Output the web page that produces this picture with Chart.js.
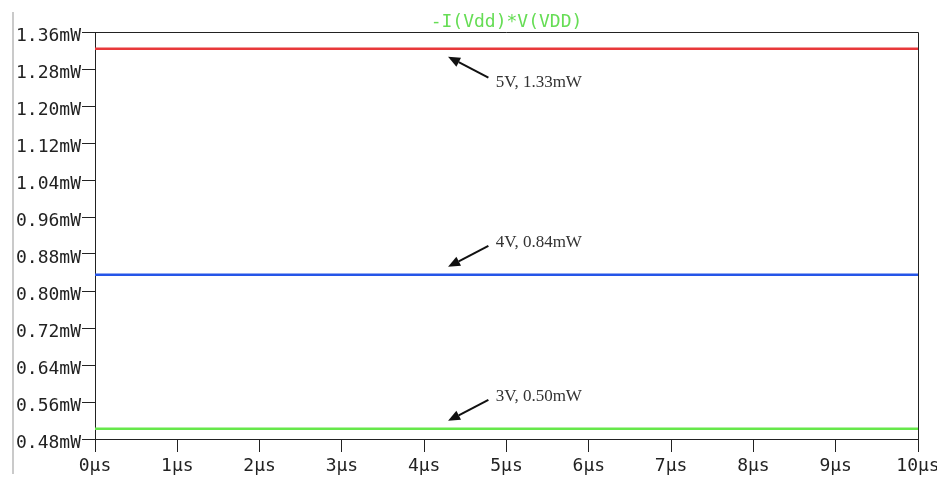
<!DOCTYPE html>
<html>
<head>
<meta charset="utf-8">
<script src="https://cdn.jsdelivr.net/npm/chart.js@4/dist/chart.umd.min.js"></script>
<style>
  html, body { margin: 0; padding: 0; background: #fff; }
  canvas { display: block; }
</style>
</head>
<body>
<canvas id="chart" width="937" height="478"></canvas>
<script>
// 資料 (單位: µs, mW)
const timeUs = [0, 10];
const power5V = [1.324, 1.324];
const power4V = [0.835, 0.835];
const power3V = [0.502, 0.502];
const yTicks = [0.48, 0.56, 0.64, 0.72, 0.80, 0.88, 0.96, 1.04, 1.12, 1.20, 1.28, 1.36];
const xTicks = [0, 1, 2, 3, 4, 5, 6, 7, 8, 9, 10];
const annoTexts = ['5V, 1.33mW', '4V, 0.84mW', '3V, 0.50mW'];
const traceTitle = '-I(Vdd)*V(VDD)';

const monoFont = "'DejaVu Sans Mono', monospace";
const axisColor = '#222';

function toPoints(values) {
    return timeUs.map((t, i) => ({ x: t, y: values[i] }));
}

// 外框、標題與左側灰線
const framePlugin = {
    id: 'frame',
    beforeDraw(chart) {
        const ctx = chart.ctx;
        ctx.save();
        ctx.strokeStyle = '#b8b8b8';
        ctx.lineWidth = 1.5;
        ctx.beginPath();
        ctx.moveTo(13, 12);
        ctx.lineTo(13, 474);
        ctx.stroke();
        ctx.restore();
    },
    afterDraw(chart) {
        const a = chart.chartArea;
        const ctx = chart.ctx;
        ctx.save();
        ctx.strokeStyle = axisColor;
        ctx.lineWidth = 1;
        ctx.beginPath();
        ctx.moveTo(a.left, a.top + 0.5);
        ctx.lineTo(a.right + 0.5, a.top + 0.5);
        ctx.lineTo(a.right + 0.5, a.bottom);
        ctx.stroke();
        ctx.fillStyle = '#66dd55';
        ctx.font = '18px ' + monoFont;
        ctx.textAlign = 'center';
        ctx.textBaseline = 'middle';
        ctx.fillText(traceTitle, (a.left + a.right) / 2, a.top - 10);
        ctx.restore();
    }
};

// 箭頭註解
const annoPlugin = {
    id: 'anno',
    afterDatasetsDraw(chart) {
        const ctx = chart.ctx;
        const xs = chart.scales.x;
        const ys = chart.scales.y;
        const lines = [power5V[0], power4V[0], power3V[0]];
        const dirs = [1, -1, -1];
        ctx.save();
        lines.forEach((v, i) => {
            const yp = ys.getPixelForValue(v);
            const d = dirs[i];
            const tipX = xs.getPixelForValue(4.29), tipY = yp + d * 8;
            const tailX = xs.getPixelForValue(4.78), tailY = yp + d * 29;
            const ang = Math.atan2(tipY - tailY, tipX - tailX);
            const hl = 12, hw = 5;
            const bx = tipX - hl * Math.cos(ang), by = tipY - hl * Math.sin(ang);
            ctx.strokeStyle = '#111';
            ctx.fillStyle = '#111';
            ctx.lineWidth = 2;
            ctx.beginPath();
            ctx.moveTo(tailX, tailY);
            ctx.lineTo(bx, by);
            ctx.stroke();
            ctx.beginPath();
            ctx.moveTo(tipX, tipY);
            ctx.lineTo(bx + hw * Math.sin(ang), by - hw * Math.cos(ang));
            ctx.lineTo(bx - hw * Math.sin(ang), by + hw * Math.cos(ang));
            ctx.closePath();
            ctx.fill();
            ctx.fillStyle = '#333';
            ctx.font = "17px 'Liberation Serif', serif";
            ctx.textAlign = 'left';
            ctx.textBaseline = 'middle';
            ctx.fillText(annoTexts[i], xs.getPixelForValue(4.87), yp + d * 33 + 1);
        });
        ctx.restore();
    }
};

new Chart(document.getElementById('chart'), {
    type: 'line',
    data: {
        datasets: [
            { data: toPoints(power5V), borderColor: '#e8383a', borderWidth: 2.5, pointRadius: 0 },
            { data: toPoints(power4V), borderColor: '#2555e8', borderWidth: 2.5, pointRadius: 0 },
            { data: toPoints(power3V), borderColor: '#66e84a', borderWidth: 2.5, pointRadius: 0 }
        ]
    },
    options: {
        responsive: false,
        animation: false,
        layout: { padding: { left: 0, right: 19, top: 32, bottom: 0 } },
        plugins: {
            legend: { display: false },
            tooltip: { enabled: false },
            title: { display: false }
        },
        scales: {
            x: {
                type: 'linear',
                min: 0,
                max: 10,
                afterBuildTicks(scale) { scale.ticks = xTicks.map(v => ({ value: v })); },
                afterFit(scale) { scale.height = 39; scale.paddingLeft = 0; scale.paddingRight = 0; },
                ticks: {
                    color: axisColor,
                    font: { family: monoFont, size: 18 },
                    padding: 4,
                    maxRotation: 0,
                    autoSkip: false,
                    callback: v => v + 'µs'
                },
                grid: { drawOnChartArea: false, color: axisColor, tickLength: 13 },
                border: { color: axisColor }
            },
            y: {
                min: 0.48,
                max: 1.36,
                afterBuildTicks(scale) { scale.ticks = yTicks.map(v => ({ value: v })); },
                afterFit(scale) { scale.width = 95; scale.paddingTop = 0; scale.paddingBottom = 0; },
                ticks: {
                    color: axisColor,
                    font: { family: monoFont, size: 18 },
                    padding: 1,
                    labelOffset: 4,
                    autoSkip: false,
                    callback: v => v.toFixed(2) + 'mW'
                },
                grid: { drawOnChartArea: false, color: axisColor, tickLength: 13 },
                border: { color: axisColor }
            }
        }
    },
    plugins: [framePlugin, annoPlugin]
});
</script>
</body>
</html>
